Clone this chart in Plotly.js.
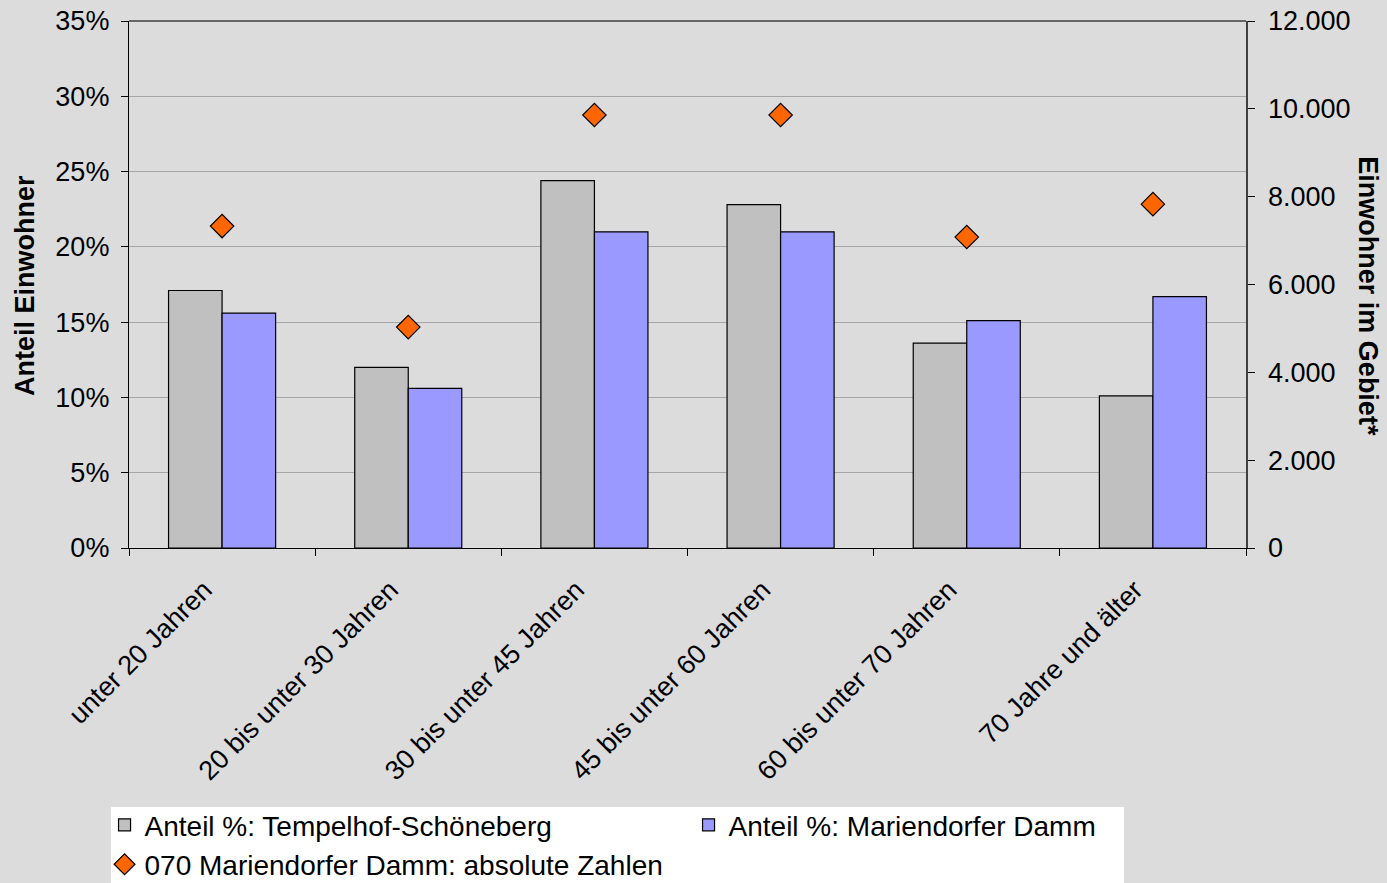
<!DOCTYPE html>
<html>
<head>
<meta charset="utf-8">
<script src="https://cdn.plot.ly/plotly-3.0.1.min.js"></script>
<style>html,body{margin:0;padding:0;background:#dcdcdc;}#chart{width:1387px;height:883px;}</style>
</head>
<body>
<div id="chart"></div>
<script>
const categories = ["unter 20 Jahren", "20 bis unter 30 Jahren", "30 bis unter 45 Jahren", "45 bis unter 60 Jahren", "60 bis unter 70 Jahren", "70 Jahre und älter"];
const anteilTempelhof = [17.1, 12.0, 24.4, 22.8, 13.6, 10.1];
const anteilMariendorf = [15.6, 10.6, 21.0, 21.0, 15.1, 16.7];
const absolutMariendorf = [7330, 5030, 9860, 9860, 7080, 7830];

const font = "Liberation Sans, Arial, sans-serif";

const traces = [
  {
    type: "bar", name: "Anteil %: Tempelhof-Schöneberg",
    x: categories, y: anteilTempelhof,
    marker: {color: "#c0c0c0", line: {color: "#000", width: 1.2}},
    yaxis: "y", hoverinfo: "y"
  },
  {
    type: "bar", name: "Anteil %: Mariendorfer Damm",
    x: categories, y: anteilMariendorf,
    marker: {color: "#9999ff", line: {color: "#000", width: 1.2}},
    yaxis: "y", hoverinfo: "y"
  },
  {
    type: "scatter", mode: "markers", name: "070 Mariendorfer Damm: absolute Zahlen",
    x: categories, y: absolutMariendorf,
    marker: {symbol: "diamond", size: 18, color: "#ff6600", line: {color: "#000", width: 1.2}},
    yaxis: "y2"
  }
];

const layout = {
  width: 1387, height: 883,
  paper_bgcolor: "#dcdcdc", plot_bgcolor: "#dcdcdc",
  margin: {l: 129, r: 141, t: 21, b: 335, autoexpand: false},
  separators: ",.",
  font: {family: font, size: 27, color: "#000"},
  barmode: "group", bargap: 0.425, bargroupgap: 0,
  showlegend: true,
  xaxis: {
    type: "category", tickangle: -45, tickson: "boundaries",
    ticks: "outside", ticklen: 7, tickcolor: "#000",
    showline: true, linecolor: "#000", linewidth: 1.2, mirror: false,
    showgrid: false, tickfont: {family: font, size: 27},
    ticklabelstandoff: 14, ticklabelshift: -18, automargin: false
  },
  yaxis: {
    range: [0, 35], dtick: 5, ticksuffix: "%",
    ticks: "outside", ticklen: 7, tickcolor: "#000",
    showline: true, linecolor: "#000", linewidth: 1.2,
    showgrid: true, gridcolor: "#a6a6a6", gridwidth: 1,
    zeroline: false, tickfont: {family: font, size: 27},
    ticklabelstandoff: 6, automargin: false
  },
  yaxis2: {
    overlaying: "y", side: "right", range: [0, 12000], dtick: 2000,
    tickformat: ",d",
    ticks: "outside", ticklen: 7, tickcolor: "#000",
    showline: true, linecolor: "#404040", linewidth: 1.5,
    showgrid: false, zeroline: false, tickfont: {family: font, size: 27},
    ticklabelstandoff: 8, automargin: false
  },
  legend: {
    orientation: "h",
    x: -0.0219, xanchor: "left", y: -0.4784, yanchor: "top",
    bgcolor: "rgba(0,0,0,0)", font: {family: font, size: 28},
    entrywidth: 539, traceorder: "normal",
    tracegroupgap: 0
  },
  shapes: [
    {type: "rect", xref: "paper", yref: "paper", x0: -0.0161, x1: 0.8908, y0: -0.4915, y1: -0.7, fillcolor: "#ffffff", line: {width: 0}, layer: "below"},
    {type: "line", xref: "paper", yref: "paper", x0: 0, x1: 1, y0: 1, y1: 1, line: {color: "#404040", width: 1.5}}
  ],
  annotations: [
    {text: "<b>Anteil Einwohner</b>", xref: "paper", yref: "paper", x: -0.0931, y: 0.497, textangle: -90, showarrow: false, font: {family: font, size: 27}, xanchor: "center", yanchor: "middle"},
    {text: "<b>Einwohner im Gebiet*</b>", xref: "paper", yref: "paper", x: 1.109, y: 0.478, textangle: 90, showarrow: false, font: {family: font, size: 27}, xanchor: "center", yanchor: "middle"}
  ]
};

Plotly.newPlot("chart", traces, layout, {displayModeBar: false, staticPlot: true});
</script>
</body>
</html>
